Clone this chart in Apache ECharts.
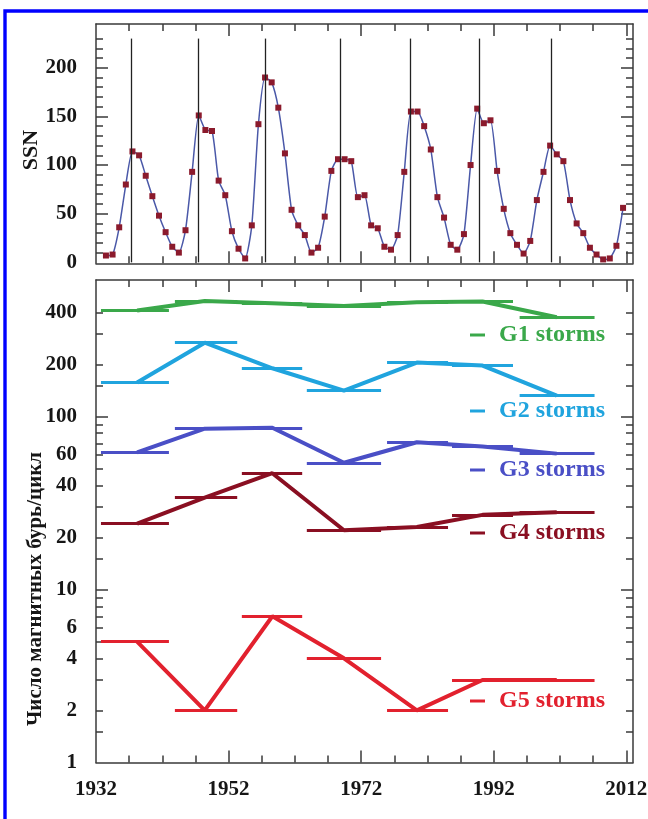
<!DOCTYPE html>
<html>
<head>
<meta charset="utf-8">
<script src="https://cdn.jsdelivr.net/npm/echarts@6/dist/echarts.min.js"></script>
<style>
html, body { margin: 0; padding: 0; background: #fff; }
#chart { width: 648px; height: 819px; }
</style>
</head>
<body>
<div id="chart"></div>
<script>
// Yearly sunspot number (plotted at mid-year)
const ssnYears = [
    1933.5, 1934.5, 1935.5, 1936.5, 1937.5, 1938.5, 1939.5, 1940.5, 1941.5, 1942.5,
    1943.5, 1944.5, 1945.5, 1946.5, 1947.5, 1948.5, 1949.5, 1950.5, 1951.5, 1952.5,
    1953.5, 1954.5, 1955.5, 1956.5, 1957.5, 1958.5, 1959.5, 1960.5, 1961.5, 1962.5,
    1963.5, 1964.5, 1965.5, 1966.5, 1967.5, 1968.5, 1969.5, 1970.5, 1971.5, 1972.5,
    1973.5, 1974.5, 1975.5, 1976.5, 1977.5, 1978.5, 1979.5, 1980.5, 1981.5, 1982.5,
    1983.5, 1984.5, 1985.5, 1986.5, 1987.5, 1988.5, 1989.5, 1990.5, 1991.5, 1992.5,
    1993.5, 1994.5, 1995.5, 1996.5, 1997.5, 1998.5, 1999.5, 2000.5, 2001.5, 2002.5,
    2003.5, 2004.5, 2005.5, 2006.5, 2007.5, 2008.5, 2009.5, 2010.5, 2011.5
];
const ssnValues = [
    7, 8, 36, 80, 114, 110, 89, 68, 48, 31,
    16, 10, 33, 93, 151, 136, 135, 84, 69, 32,
    14, 4, 38, 142, 190, 185, 159, 112, 54, 38,
    28, 10, 15, 47, 94, 106, 106, 104, 67, 69,
    38, 35, 16, 13, 28, 93, 155, 155, 140, 116,
    67, 46, 18, 13, 29, 100, 158, 143, 146, 94,
    55, 30, 18, 9, 22, 64, 93, 120, 111, 104,
    64, 40, 30, 15, 8, 3, 4, 17, 56
];
// Solar maximum markers
const maxYears = [1937.3, 1947.4, 1957.6, 1968.8, 1979.4, 1989.8, 2000.7];
const maxLineTop = 230;

// Solar cycles 17..23: span of each cycle and its plotted centre
const cycleStart = [1932.75, 1943.9, 1954.0, 1963.8, 1975.9, 1985.7, 1995.9];
const cycleEnd = [1943.0, 1953.3, 1963.1, 1975.0, 1985.1, 1994.9, 2007.2];
const cycleMid = [1938.2, 1948.4, 1958.6, 1969.4, 1980.4, 1990.3, 2001.5];

// Storms per cycle
const g1Storms = [410, 465, 452, 435, 458, 462, 375];
const g2Storms = [157, 267, 190, 141, 205, 197, 132];
const g3Storms = [62, 85, 86, 54, 71, 67, 61];
const g4Storms = [24, 34, 47, 22, 23, 27, 28];
const g5Storms = [5, 2, 7, 4, 2, 3, 3];

const stormNames = ['G1 storms', 'G2 storms', 'G3 storms', 'G4 storms', 'G5 storms'];
const stormColors = ['#3aa84a', '#20a4de', '#4a4fc6', '#8a0f22', '#e2212e'];

// Ticks and labels
const xLabels = [1932, 1952, 1972, 1992, 2012];
const xMajorTicks = [1952, 1972, 1992, 2012];
const xMinorTicks = [1937, 1942, 1947, 1957, 1962, 1967, 1977, 1982, 1987, 1997, 2002, 2007];
const ssnLabels = [0, 50, 100, 150, 200];
const ssnMajorTicks = [50, 100, 150, 200];
const ssnMinorTicks = [10, 20, 30, 40, 60, 70, 80, 90, 110, 120, 130, 140, 160, 170, 180, 190, 210, 220, 230];
const stormLabels = [1, 2, 4, 6, 10, 20, 40, 60, 100, 200, 400];
const stormMajorTicks = [10, 100];
const stormMinorTicks = [1.5, 2, 3, 4, 5, 6, 7, 8, 9, 15, 20, 30, 40, 50, 60, 70, 80, 90, 150, 200, 300, 400];

const serif = '"Liberation Serif", "Times New Roman", serif';
const axisColor = '#3a3a3a';
const labelFont = { fontFamily: serif, fontWeight: 'bold', fontSize: 21, color: '#161616' };

const xMin = 1932, xMax = 2013;

function plainNumber(v) {
    return String(Math.round(v * 100) / 100);
}

function xAxisDef(grid, pos, ticks, len, labels, showLine) {
    return {
        type: 'value', gridIndex: grid, position: pos, min: xMin, max: xMax,
        axisLine: { show: showLine, onZero: false, lineStyle: { color: axisColor, width: 1.5 } },
        axisTick: { show: true, inside: true, length: len, customValues: ticks, lineStyle: { color: axisColor, width: 1.5 } },
        axisLabel: labels ? Object.assign({ show: true, customValues: labels, margin: 17, formatter: plainNumber }, labelFont) : { show: false },
        splitLine: { show: false }
    };
}

function yAxisDef(grid, type, min, max, pos, ticks, len, labels, showLine) {
    const axis = {
        type: type, gridIndex: grid, position: pos, min: min, max: max,
        axisLine: { show: showLine, onZero: false, lineStyle: { color: axisColor, width: 1.5 } },
        axisTick: { show: true, inside: true, length: len, customValues: ticks, lineStyle: { color: axisColor, width: 1.5 } },
        axisLabel: labels ? Object.assign({ show: true, customValues: labels, margin: 19, formatter: plainNumber }, labelFont) : { show: false },
        splitLine: { show: false }
    };
    if (type === 'log') axis.logBase = 10;
    return axis;
}

const xAxes = [];
[0, 1].forEach(g => {
    xAxes.push(xAxisDef(g, 'bottom', xMinorTicks, 7, null, true));
    xAxes.push(xAxisDef(g, 'bottom', xMajorTicks, 12, g === 1 ? xLabels : null, false));
    xAxes.push(xAxisDef(g, 'top', xMinorTicks, 7, null, true));
    xAxes.push(xAxisDef(g, 'top', xMajorTicks, 12, null, false));
});

const yAxes = [
    yAxisDef(0, 'value', -1, 245, 'left', ssnMinorTicks, 7, ssnLabels, true),
    yAxisDef(0, 'value', -1, 245, 'left', ssnMajorTicks, 12, null, false),
    yAxisDef(0, 'value', -1, 245, 'right', ssnMinorTicks, 7, null, true),
    yAxisDef(0, 'value', -1, 245, 'right', ssnMajorTicks, 12, null, false),
    yAxisDef(1, 'log', 1, 615, 'left', stormMinorTicks, 7, stormLabels, true),
    yAxisDef(1, 'log', 1, 615, 'left', stormMajorTicks, 12, null, false),
    yAxisDef(1, 'log', 1, 615, 'right', stormMinorTicks, 7, null, true),
    yAxisDef(1, 'log', 1, 615, 'right', stormMajorTicks, 12, null, false)
];

// Build storm series: connecting line through cycle centres plus one bar per cycle
function stormSeries(name, values, color) {
    return {
        name: name, type: 'line', xAxisIndex: 4, yAxisIndex: 4,
        color: color, symbol: 'none', z: 3,
        lineStyle: { color: color, width: 4 },
        data: cycleMid.map((x, i) => [x, values[i]]),
        markLine: {
            silent: true, symbol: ['none', 'none'], label: { show: false },
            lineStyle: { color: color, width: 3, type: 'solid' },
            emphasis: { disabled: true },
            data: cycleStart.map((s, i) => [{ coord: [s, values[i]] }, { coord: [cycleEnd[i], values[i]] }])
        }
    };
}

const allStorms = [g1Storms, g2Storms, g3Storms, g4Storms, g5Storms];
const legendTops = [323, 399, 458, 521, 689];

const option = {
    animation: false,
    backgroundColor: '#fff',
    grid: [
        { left: 96, top: 24, width: 537, height: 239.3, outerBoundsMode: 'none' },
        { left: 96, top: 280, width: 537, height: 482.5, outerBoundsMode: 'none' }
    ],
    xAxis: xAxes,
    yAxis: yAxes,
    legend: stormNames.map((n, i) => ({
        data: [n], left: 470, top: legendTops[i], padding: 0,
        icon: 'rect', itemWidth: 15, itemHeight: 3, selectedMode: false,
        textStyle: { fontFamily: serif, fontWeight: 'bold', fontSize: 24, color: stormColors[i], padding: [0, 0, 0, 9] }
    })),
    graphic: [
        { type: 'rect', shape: { x: 5, y: 11, width: 700, height: 900 }, style: { fill: 'none', stroke: '#0000ff', lineWidth: 3.4 }, silent: true },
        { type: 'text', x: 31, y: 150, rotation: Math.PI / 2, style: { text: 'SSN', font: 'bold 22px ' + serif, fill: '#161616', textAlign: 'center', textVerticalAlign: 'middle' } },
        { type: 'text', x: 36, y: 589, rotation: Math.PI / 2, style: { text: 'Число магнитных бурь/цикл', font: 'bold 21px ' + serif, fill: '#161616', textAlign: 'center', textVerticalAlign: 'middle' } }
    ],
    series: [
        {
            name: 'SSN', type: 'line', xAxisIndex: 0, yAxisIndex: 0,
            data: ssnYears.map((x, i) => [x, ssnValues[i]]),
            smooth: 0.2, symbol: 'rect', symbolSize: 6, z: 3,
            lineStyle: { color: '#4a58a8', width: 1.5 },
            itemStyle: { color: '#8b1a2c' },
            markLine: {
                silent: true, symbol: ['none', 'none'], label: { show: false },
                lineStyle: { color: '#222', width: 1.3, type: 'solid' },
                emphasis: { disabled: true },
                data: maxYears.map(y => [{ coord: [y, 0] }, { coord: [y, maxLineTop] }])
            }
        }
    ].concat(stormNames.map((n, i) => stormSeries(n, allStorms[i], stormColors[i])))
};

const chart = echarts.init(document.getElementById('chart'));
chart.setOption(option);
</script>
</body>
</html>
